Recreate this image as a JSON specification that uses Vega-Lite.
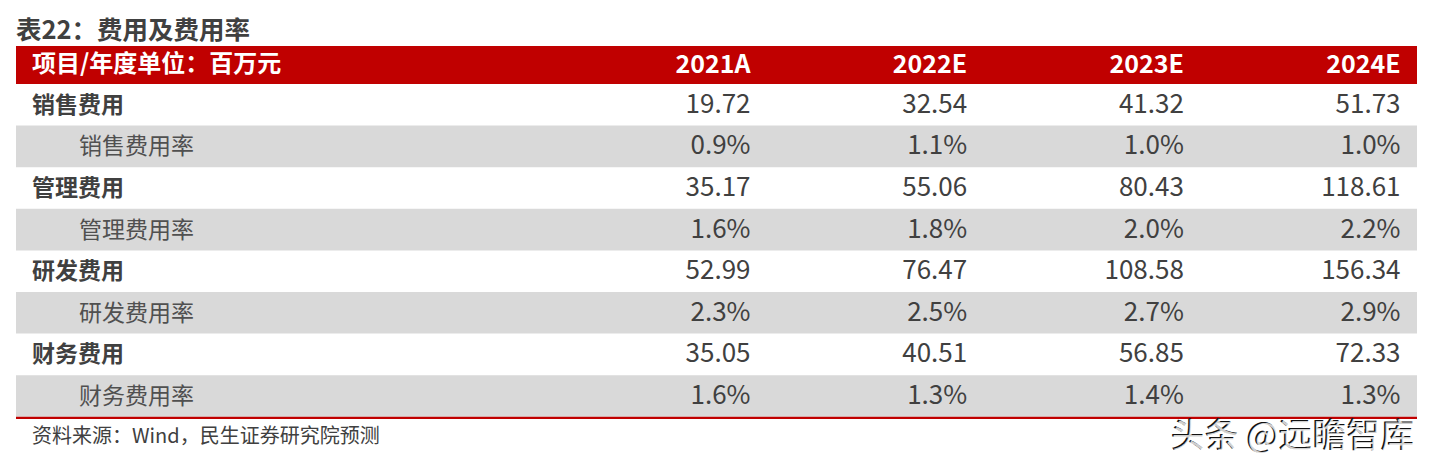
{
  "$schema": "https://vega.github.io/schema/vega-lite/v6.json",
  "width": 1401,
  "height": 465,
  "autosize": {"type": "none"},
  "padding": {"left": 16, "right": 12, "top": 0, "bottom": 0},
  "background": "white",
  "config": {"view": {"stroke": null}, "axis": {"disable": true}, "font": "Noto Sans CJK SC"},
  "datasets": {
    "header": [
      {"row": 0, "col": 1, "text": "2021A"},
      {"row": 0, "col": 2, "text": "2022E"},
      {"row": 0, "col": 3, "text": "2023E"},
      {"row": 0, "col": 4, "text": "2024E"}
    ],
    "rows": [
      {"row": 1, "item": "销售费用", "level": 1},
      {"row": 2, "item": "销售费用率", "level": 2},
      {"row": 3, "item": "管理费用", "level": 1},
      {"row": 4, "item": "管理费用率", "level": 2},
      {"row": 5, "item": "研发费用", "level": 1},
      {"row": 6, "item": "研发费用率", "level": 2},
      {"row": 7, "item": "财务费用", "level": 1},
      {"row": 8, "item": "财务费用率", "level": 2}
    ],
    "cells": [
      {"row": 1, "col": 1, "year": "2021A", "value": "19.72"},
      {"row": 1, "col": 2, "year": "2022E", "value": "32.54"},
      {"row": 1, "col": 3, "year": "2023E", "value": "41.32"},
      {"row": 1, "col": 4, "year": "2024E", "value": "51.73"},
      {"row": 2, "col": 1, "year": "2021A", "value": "0.9%"},
      {"row": 2, "col": 2, "year": "2022E", "value": "1.1%"},
      {"row": 2, "col": 3, "year": "2023E", "value": "1.0%"},
      {"row": 2, "col": 4, "year": "2024E", "value": "1.0%"},
      {"row": 3, "col": 1, "year": "2021A", "value": "35.17"},
      {"row": 3, "col": 2, "year": "2022E", "value": "55.06"},
      {"row": 3, "col": 3, "year": "2023E", "value": "80.43"},
      {"row": 3, "col": 4, "year": "2024E", "value": "118.61"},
      {"row": 4, "col": 1, "year": "2021A", "value": "1.6%"},
      {"row": 4, "col": 2, "year": "2022E", "value": "1.8%"},
      {"row": 4, "col": 3, "year": "2023E", "value": "2.0%"},
      {"row": 4, "col": 4, "year": "2024E", "value": "2.2%"},
      {"row": 5, "col": 1, "year": "2021A", "value": "52.99"},
      {"row": 5, "col": 2, "year": "2022E", "value": "76.47"},
      {"row": 5, "col": 3, "year": "2023E", "value": "108.58"},
      {"row": 5, "col": 4, "year": "2024E", "value": "156.34"},
      {"row": 6, "col": 1, "year": "2021A", "value": "2.3%"},
      {"row": 6, "col": 2, "year": "2022E", "value": "2.5%"},
      {"row": 6, "col": 3, "year": "2023E", "value": "2.7%"},
      {"row": 6, "col": 4, "year": "2024E", "value": "2.9%"},
      {"row": 7, "col": 1, "year": "2021A", "value": "35.05"},
      {"row": 7, "col": 2, "year": "2022E", "value": "40.51"},
      {"row": 7, "col": 3, "year": "2023E", "value": "56.85"},
      {"row": 7, "col": 4, "year": "2024E", "value": "72.33"},
      {"row": 8, "col": 1, "year": "2021A", "value": "1.6%"},
      {"row": 8, "col": 2, "year": "2022E", "value": "1.3%"},
      {"row": 8, "col": 3, "year": "2023E", "value": "1.4%"},
      {"row": 8, "col": 4, "year": "2024E", "value": "1.3%"}
    ],
    "title": [
      {"text": "表22：费用及费用率"}
    ],
    "notes": [
      {"text": "资料来源：Wind，民生证券研究院预测"}
    ],
    "mark": [
      {"text": "头条 @远瞻智库"}
    ]
  },
  "layer": [
    {
      "data": {"name": "header"},
      "transform": [{"filter": "datum.col == 1"}],
      "mark": {"type": "rect", "color": "#c00000", "height": 38, "yOffset": 1.8},
      "encoding": {
        "y": {"field": "row", "type": "quantitative", "scale": {"domain": [-1.5192, 9.6587], "reverse": true, "nice": false, "zero": false}, "axis": null}
      }
    },
    {
      "data": {"name": "rows"},
      "transform": [{"filter": "datum.level == 2"}],
      "mark": {"type": "rect", "color": "#d9d9d9", "height": 41.6},
      "encoding": {
        "y": {"field": "row", "type": "quantitative"}
      }
    },
    {
      "data": {"name": "header"},
      "mark": {"type": "text", "align": "right", "baseline": "middle", "yOffset": 1.8, "font": "Noto Sans CJK SC", "fontSize": 25, "fontWeight": "bold", "color": "white"},
      "encoding": {
        "x": {"field": "col", "type": "quantitative", "scale": {"domain": [-2.390, 4.076], "nice": false, "zero": false}, "axis": null},
        "y": {"field": "row", "type": "quantitative"},
        "text": {"field": "text"}
      }
    },
    {
      "data": {"name": "header"},
      "transform": [{"filter": "datum.col == 1"}],
      "mark": {"type": "text", "align": "left", "baseline": "middle", "yOffset": 1.8, "font": "Noto Sans CJK SC", "fontSize": 24, "fontWeight": "bold", "color": "white"},
      "encoding": {
        "x": {"datum": -2.316},
        "y": {"field": "row", "type": "quantitative"},
        "text": {"value": "项目/年度单位：百万元"}
      }
    },
    {
      "data": {"name": "rows"},
      "transform": [{"filter": "datum.level == 1"}],
      "mark": {"type": "text", "align": "left", "baseline": "middle", "yOffset": 1, "font": "Noto Sans CJK SC", "fontSize": 23, "fontWeight": "bold", "color": "#404040"},
      "encoding": {
        "x": {"datum": -2.316},
        "y": {"field": "row", "type": "quantitative"},
        "text": {"field": "item"}
      }
    },
    {
      "data": {"name": "rows"},
      "transform": [{"filter": "datum.level == 2"}],
      "mark": {"type": "text", "align": "left", "baseline": "middle", "yOffset": 1, "font": "Noto Sans CJK SC", "fontSize": 23, "fontWeight": "normal", "color": "#505050"},
      "encoding": {
        "x": {"datum": -2.099},
        "y": {"field": "row", "type": "quantitative"},
        "text": {"field": "item"}
      }
    },
    {
      "data": {"name": "cells"},
      "mark": {"type": "text", "align": "right", "baseline": "middle", "font": "Noto Sans CJK SC", "fontSize": 26, "fontWeight": "normal", "color": "#404040"},
      "encoding": {
        "x": {"field": "col", "type": "quantitative"},
        "y": {"field": "row", "type": "quantitative"},
        "text": {"field": "value"}
      }
    },
    {
      "data": {"name": "notes"},
      "mark": {"type": "rule", "color": "#c00000", "strokeWidth": 2.2},
      "encoding": {
        "y": {"datum": 8.524}
      }
    },
    {
      "data": {"name": "title"},
      "mark": {"type": "text", "align": "left", "baseline": "middle", "font": "Noto Sans CJK SC", "fontSize": 25.5, "fontWeight": "bold", "color": "#404040"},
      "encoding": {
        "x": {"datum": -2.39},
        "y": {"datum": -0.774},
        "text": {"field": "text"}
      }
    },
    {
      "data": {"name": "notes"},
      "mark": {"type": "text", "align": "left", "baseline": "middle", "font": "Noto Sans CJK SC", "fontSize": 20, "color": "#404040"},
      "encoding": {
        "x": {"datum": -2.316},
        "y": {"datum": 8.986},
        "text": {"field": "text"}
      }
    },
    {
      "data": {"name": "mark"},
      "mark": {"type": "text", "align": "right", "baseline": "middle", "dx": -3, "font": "Noto Sans CJK SC", "fontSize": 34, "fontWeight": "normal", "color": "#111111"},
      "encoding": {
        "x": {"datum": 4.076},
        "y": {"datum": 8.98},
        "text": {"field": "text"}
      }
    },
    {
      "data": {"name": "mark"},
      "mark": {"type": "text", "align": "right", "baseline": "middle", "dx": -1.5, "dy": 1.5, "font": "Noto Sans CJK SC", "fontSize": 34, "fontWeight": "normal", "color": "white", "opacity": 0.8},
      "encoding": {
        "x": {"datum": 4.076},
        "y": {"datum": 8.98},
        "text": {"field": "text"}
      }
    }
  ]
}
